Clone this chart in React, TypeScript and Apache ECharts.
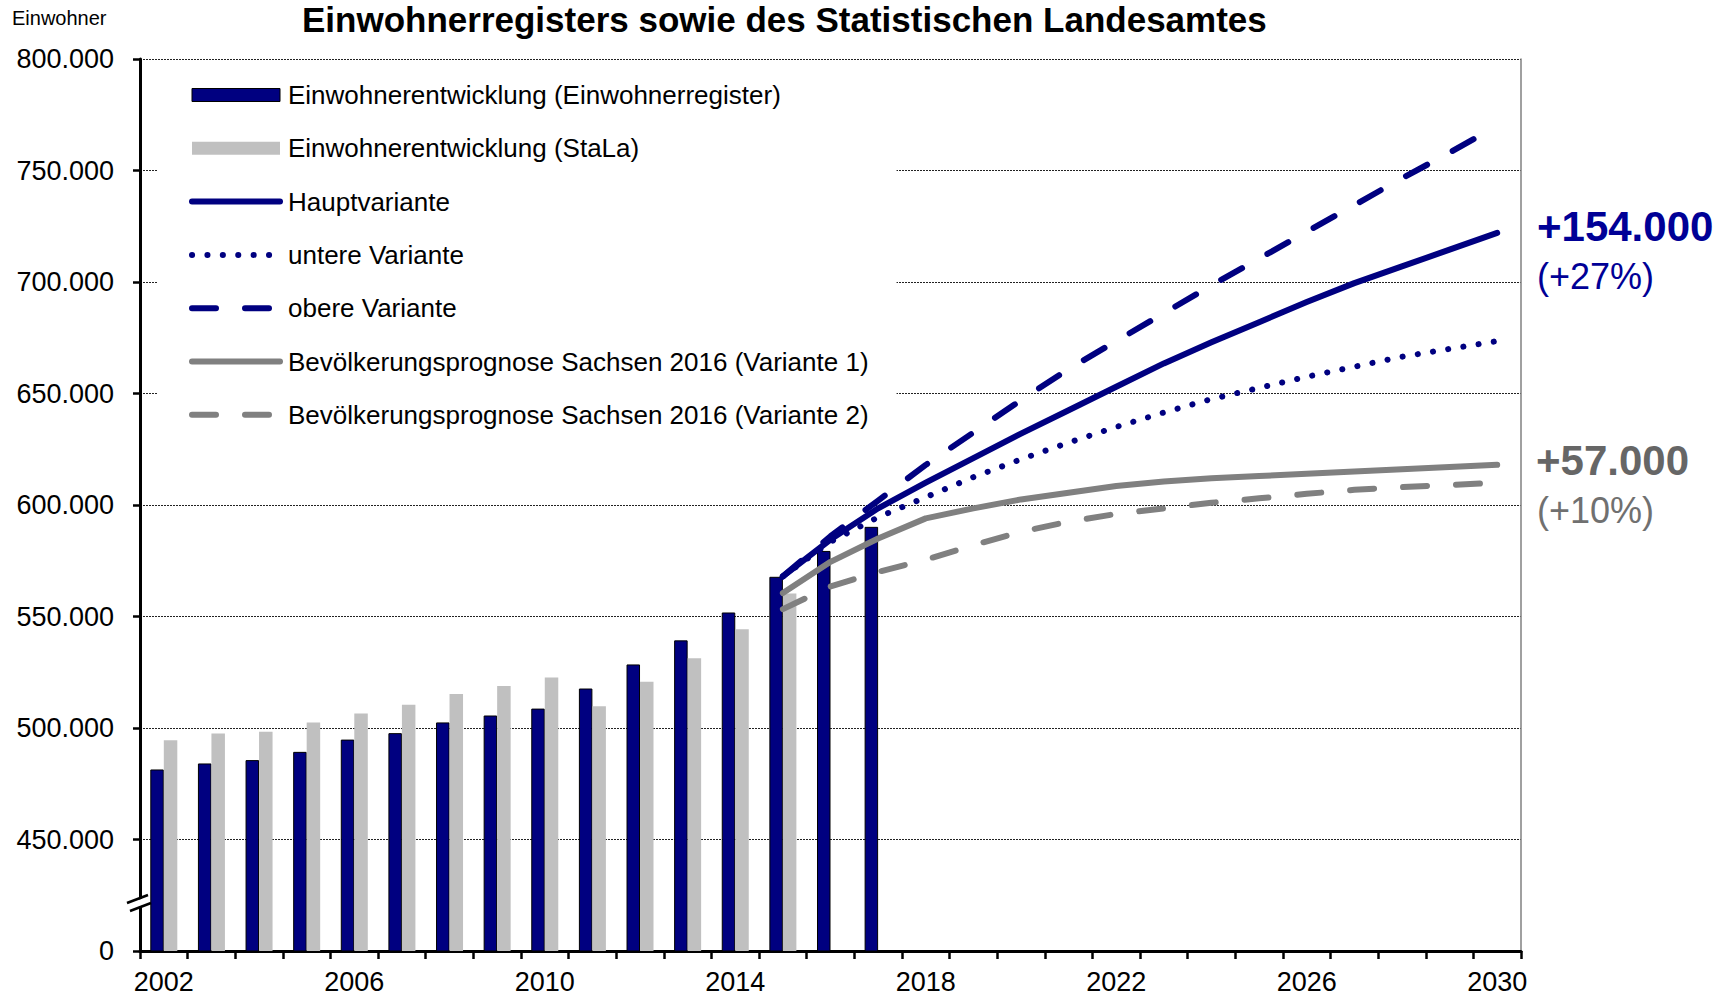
import React, { useEffect, useRef } from "react";
import * as echarts from "echarts";

const years = [
  "2002", "2003", "2004", "2005", "2006", "2007", "2008", "2009", "2010", "2011",
  "2012", "2013", "2014", "2015", "2016", "2017", "2018", "2019", "2020", "2021",
  "2022", "2023", "2024", "2025", "2026", "2027", "2028", "2029", "2030",
];

// Einwohnerregister 2002–2017
const registerValues = [
  481400, 484100, 485600, 489300, 494800, 497700, 502500, 505600, 508700, 517700,
  528500, 539300, 551800, 567800, 579400, 590200,
];
// Statistisches Landesamt 2002–2015
const stalaValues = [
  494500, 497500, 498300, 502500, 506500, 510400, 515200, 518800, 522700, 509800,
  520700, 531300, 544300, 560300,
];
// Prognosen 2015–2030
const hauptValues = [
  568000, 584500, 598500, 610000, 621000, 632000, 642500, 653000, 663500, 673000,
  682000, 691000, 699500, 707000, 714500, 722000,
];
const untereValues = [
  568000, 583500, 594500, 603500, 612500, 620500, 628000, 635000, 641500, 647500,
  652500, 657500, 662000, 666500, 670000, 673500,
];
const obereValues = [
  568000, 586000, 602000, 618000, 632500, 647000, 661000, 673500, 686000, 698500,
  710500, 722500, 734500, 746500, 758000, 770000,
];
const bev1Values = [
  560500, 574500, 585000, 594000, 598500, 602500, 605500, 608500, 610500, 612000,
  613000, 614000, 615000, 616000, 617000, 618000,
];
const bev2Values = [
  553300, 563500, 570000, 575500, 582000, 588000, 592500, 596000, 598500, 601000,
  603000, 605000, 606800, 608000, 609000, 610000,
];

const seriesNames = [
  "Einwohnerentwicklung (Einwohnerregister)",
  "Einwohnerentwicklung (StaLa)",
  "Hauptvariante",
  "untere Variante",
  "obere Variante",
  "Bevölkerungsprognose Sachsen 2016 (Variante 1)",
  "Bevölkerungsprognose Sachsen 2016 (Variante 2)",
];

const titleText = "Einwohnerregisters sowie des Statistischen Landesamtes";
const yAxisTitle = "Einwohner";
const annotationTexts = ["+154.000", "(+27%)", "+57.000", "(+10%)"];

const NAVY = "#000080";
const LIGHT_GRAY = "#C0C0C0";
const MID_GRAY = "#808080";
const FONT = "Liberation Sans, Arial, sans-serif";

function padStart(values: number[], startYear: string): (number | null)[] {
  const idx = years.indexOf(startYear);
  const out: (number | null)[] = years.map(() => null);
  values.forEach((v, i) => {
    out[idx + i] = v;
  });
  return out;
}

function formatY(v: number): string {
  if (v === 400000) return "0";
  const k = Math.round(v / 1000);
  return k + ".000";
}

export default function App() {
  const ref = useRef<HTMLDivElement>(null);

  useEffect(() => {
    document.body.style.margin = "0";
    if (!ref.current) return;
    const chart = echarts.init(ref.current, undefined, { renderer: "svg" });

    const lineBase = {
      type: "line" as const,
      symbol: "none",
      connectNulls: false,
      z: 3,
    };

    const option: any = {
      animation: false,
      backgroundColor: "#ffffff",
      textStyle: { fontFamily: FONT },
      title: {
        text: titleText,
        left: 302,
        top: 2,
        padding: 0,
        textStyle: { fontSize: 35, fontWeight: "bold", color: "#000", fontFamily: FONT },
      },
      grid: { left: 140, right: 206, top: 59, bottom: 46, containLabel: false },
      legend: {
        orient: "vertical",
        left: 158,
        top: 70,
        padding: [12, 28, 20, 31],
        backgroundColor: "#ffffff",
        itemWidth: 88,
        itemHeight: 13,
        itemGap: 27.3,
        selectedMode: false,
        textStyle: {
          fontSize: 26,
          lineHeight: 26,
          color: "#000",
          fontFamily: FONT,
          padding: [0, 0, 0, 3],
        },
        data: [
          { name: seriesNames[0], icon: "rect", itemStyle: { borderWidth: 1, borderColor: "#000" } },
          { name: seriesNames[1], icon: "rect", itemStyle: { borderWidth: 0 } },
          { name: seriesNames[2], itemStyle: { opacity: 0 }, lineStyle: { width: 6 } },
          { name: seriesNames[3], itemStyle: { opacity: 0 }, lineStyle: { width: 6 } },
          { name: seriesNames[4], itemStyle: { opacity: 0 }, lineStyle: { width: 6 } },
          { name: seriesNames[5], itemStyle: { opacity: 0 }, lineStyle: { width: 6 } },
          { name: seriesNames[6], itemStyle: { opacity: 0 }, lineStyle: { width: 6 } },
        ],
      },
      xAxis: {
        type: "category",
        data: years,
        boundaryGap: true,
        axisLine: { show: true, lineStyle: { color: "#000", width: 3 } },
        axisTick: { show: true, interval: 0, length: 8, inside: false, lineStyle: { color: "#000", width: 2.5 } },
        axisLabel: { interval: 3, fontSize: 27, color: "#000", margin: 17, fontFamily: FONT },
        splitLine: { show: false },
      },
      yAxis: [
        {
          type: "value",
          min: 400000,
          max: 800000,
          interval: 50000,
          axisLine: { show: true, lineStyle: { color: "#000", width: 3 } },
          axisTick: { show: true, length: 7, lineStyle: { color: "#000", width: 2.5 } },
          axisLabel: { fontSize: 27, color: "#000", margin: 26, fontFamily: FONT, formatter: formatY },
          splitLine: { show: true, lineStyle: { color: "#222", width: 1, type: [2, 1] } },
        },
        {
          type: "value",
          position: "right",
          min: 400000,
          max: 800000,
          interval: 50000,
          axisLine: { show: true, lineStyle: { color: MID_GRAY, width: 1.5 } },
          axisTick: { show: false },
          axisLabel: { show: false },
          splitLine: { show: false },
        },
      ],
      series: [
        {
          name: seriesNames[0],
          type: "bar",
          data: registerValues,
          barWidth: 13.5,
          barGap: "0%",
          itemStyle: { color: NAVY, borderColor: "#000", borderWidth: 1 },
          z: 2,
        },
        {
          name: seriesNames[1],
          type: "bar",
          data: stalaValues,
          barWidth: 13.5,
          barGap: "0%",
          itemStyle: { color: LIGHT_GRAY, borderWidth: 0 },
          z: 2,
        },
        {
          ...lineBase,
          name: seriesNames[5],
          data: padStart(bev1Values, "2015"),
          itemStyle: { color: MID_GRAY },
          lineStyle: { color: MID_GRAY, width: 6, cap: "round", join: "round" },
        },
        {
          ...lineBase,
          name: seriesNames[6],
          data: padStart(bev2Values, "2015"),
          itemStyle: { color: MID_GRAY },
          lineStyle: { color: MID_GRAY, width: 6, type: [24, 29], cap: "round", join: "round" },
        },
        {
          ...lineBase,
          name: seriesNames[3],
          data: padStart(untereValues, "2015"),
          itemStyle: { color: NAVY },
          lineStyle: { color: NAVY, width: 6, type: [0.1, 15.3], cap: "round", join: "round" },
        },
        {
          ...lineBase,
          name: seriesNames[4],
          data: padStart(obereValues, "2015"),
          itemStyle: { color: NAVY },
          lineStyle: { color: NAVY, width: 6, type: [24, 29], cap: "round", join: "round" },
        },
        {
          ...lineBase,
          name: seriesNames[2],
          data: padStart(hauptValues, "2015"),
          itemStyle: { color: NAVY },
          lineStyle: { color: NAVY, width: 6, cap: "round", join: "round" },
        },
      ],
      graphic: [
        {
          type: "text",
          left: 12,
          top: 8,
          style: { text: yAxisTitle, fontSize: 20, fill: "#000", fontFamily: FONT },
        },
        {
          type: "polygon",
          z: 100,
          shape: { points: [[129, 903], [150, 896], [150, 903], [129, 910]] },
          style: { fill: "#fff" },
        },
        {
          type: "line",
          z: 101,
          shape: { x1: 127, y1: 903, x2: 148, y2: 895 },
          style: { stroke: "#000", lineWidth: 2.5 },
        },
        {
          type: "line",
          z: 101,
          shape: { x1: 130, y1: 911, x2: 151, y2: 903 },
          style: { stroke: "#000", lineWidth: 2.5 },
        },
        {
          type: "text",
          x: 1537,
          y: 226,
          style: {
            text: annotationTexts[0], fontSize: 42, fontWeight: "bold", fill: "#000096",
            fontFamily: FONT, textVerticalAlign: "middle", verticalAlign: "middle",
          },
        },
        {
          type: "text",
          x: 1537,
          y: 276,
          style: {
            text: annotationTexts[1], fontSize: 36, fill: "#000096",
            fontFamily: FONT, textVerticalAlign: "middle", verticalAlign: "middle",
          },
        },
        {
          type: "text",
          x: 1536,
          y: 460,
          style: {
            text: annotationTexts[2], fontSize: 42, fontWeight: "bold", fill: "#666666",
            fontFamily: FONT, textVerticalAlign: "middle", verticalAlign: "middle",
          },
        },
        {
          type: "text",
          x: 1537,
          y: 510,
          style: {
            text: annotationTexts[3], fontSize: 36, fill: "#707070",
            fontFamily: FONT, textVerticalAlign: "middle", verticalAlign: "middle",
          },
        },
      ],
    };

    chart.setOption(option);
    return () => {
      chart.dispose();
    };
  }, []);

  return <div ref={ref} style={{ width: "1727px", height: "997px" }} />;
}
